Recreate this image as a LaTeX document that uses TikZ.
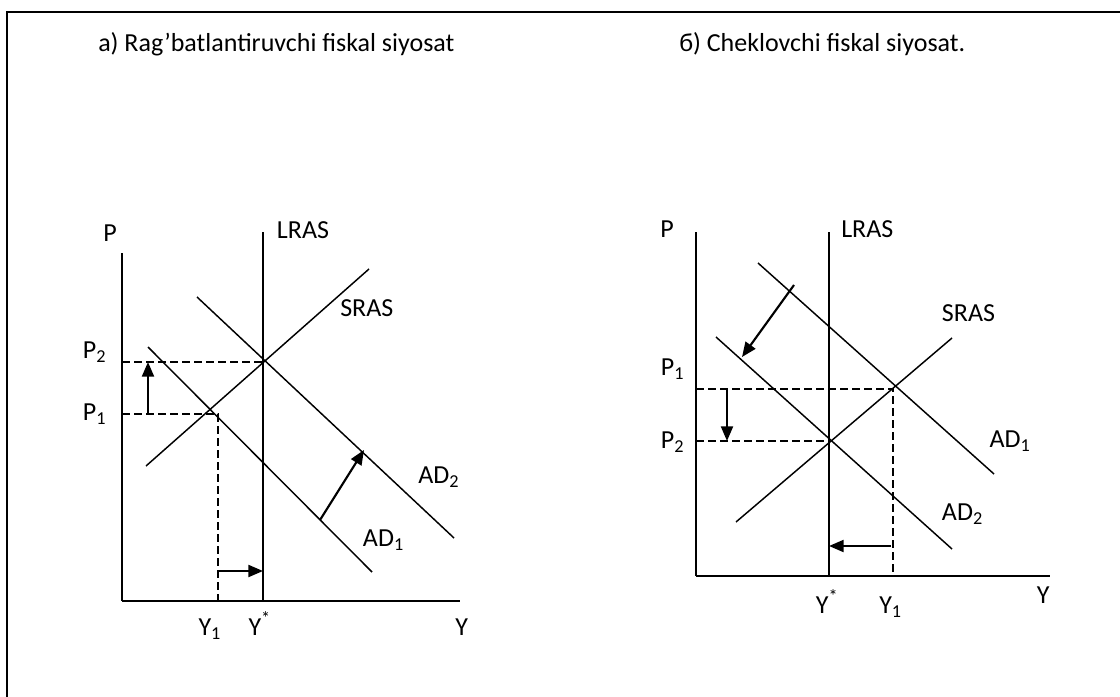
\documentclass[tikz,border=0pt]{standalone}
\usepackage{fontspec}
\setmainfont{Carlito}
\usetikzlibrary{arrows.meta}

\begin{document}
\begin{tikzpicture}[x=0.75pt,y=-0.75pt,
  ax/.style={line width=1.5pt},
  cv/.style={line width=1.1pt},
  gd/.style={line width=1.1pt,dash pattern=on 6pt off 3pt},
  mv/.style={line width=1.6pt,-{Triangle[length=11pt,width=9pt]}},
  lb/.style={font=\fontsize{19.5}{23}\selectfont,inner sep=0pt,anchor=base west}]
  \useasboundingbox (0,0) rectangle (1120,696);
  \draw[line width=1.6pt] (7,720) -- (7,12) -- (1140,12);
  \node[lb](ta)at(98,51.7){a) Rag’batlantiruvchi fiskal siyosat};
  \node[lb](tb)at(679,51.7){б) Cheklovchi fiskal siyosat.};
  % a) left panel
  \coordinate(aO)at(122,601);\coordinate(aPt)at(122,253);\coordinate(aYe)at(460,601);
  \coordinate(aL0)at(263,601);\coordinate(aL1)at(263,232);
  \coordinate(aS0)at(146,466);\coordinate(aS1)at(369,269);
  \coordinate(aA0)at(148,347);\coordinate(aA1)at(372,572);
  \coordinate(aB0)at(197,297);\coordinate(aB1)at(454,538);
  \coordinate(aE1)at(218,414);\coordinate(aE2)at(263,362);
  \draw[ax](aPt)--(aO);\draw[ax](aO)--(aYe);\draw[cv](aL0)--(aL1);
  \draw[cv](aS0)--(aS1);\draw[cv](aA0)--(aA1);\draw[cv](aB0)--(aB1);
  \draw[gd](aO|-aE2)--(aE2);\draw[gd](aO|-aE1)--(aE1)--(aE1|-aO);
  \coordinate(aU0)at(148,414);\coordinate(aU1)at(148,362);
  \coordinate(aR0)at(218,571);\coordinate(aR1)at(263,571);
  \coordinate(aD0)at(320,520);\coordinate(aD1)at(364,450);
  \draw[mv](aU0)--(aU1);\draw[mv](aR0)--(aR1);\draw[mv](aD0)--(aD1);
  \node[lb](aP)at(103,241.7){P};\node[lb](aLR)at(276.7,238.3){LRAS};
  \node[lb](aSR)at(340,316){SRAS};
  \node[lb](aP2)at(82.7,358){P\textsubscript{2}};\node[lb](aP1)at(82.7,420){P\textsubscript{1}};
  \node[lb](aAD2)at(418,483.3){AD\textsubscript{2}};\node[lb](aAD1)at(362.7,546.7){AD\textsubscript{1}};
  \node[lb](aY1)at(198.3,635){Y\textsubscript{1}};\node[lb](aYs)at(248.3,635){Y\textsuperscript{*}};
  \node[lb](aY)at(455,635){Y};
  % b) right panel
  \coordinate(bO)at(696,576);\coordinate(bPt)at(696,232);\coordinate(bYe)at(1050,576);
  \coordinate(bL0)at(829,576);\coordinate(bL1)at(829,232);
  \coordinate(bA0)at(758,263);\coordinate(bA1)at(994,474);
  \coordinate(bB0)at(716,337);\coordinate(bB1)at(952,549);
  \coordinate(bS0)at(736,522);\coordinate(bS1)at(952,338);
  \coordinate(bE1)at(893,389);\coordinate(bE2)at(829,441);
  \draw[ax](bPt)--(bO);\draw[ax](bO)--(bYe);\draw[cv](bL0)--(bL1);
  \draw[cv](bS0)--(bS1);\draw[cv](bA0)--(bA1);\draw[cv](bB0)--(bB1);
  \draw[gd](bO|-bE1)--(bE1)--(bE1|-bO);\draw[gd](bO|-bE2)--(bE2);
  \coordinate(bU0)at(727,389);\coordinate(bU1)at(727,441);
  \coordinate(bR0)at(891,546);\coordinate(bR1)at(829,546);
  \coordinate(bD0)at(794,285);\coordinate(bD1)at(742,357);
  \draw[mv](bU0)--(bU1);\draw[mv](bR0)--(bR1);\draw[mv](bD0)--(bD1);
  \node[lb](bP)at(660,237.3){P};\node[lb](bLR)at(841,237.3){LRAS};
  \node[lb](bSR)at(941.7,321.7){SRAS};
  \node[lb](bP1)at(660.7,375.7){P\textsubscript{1}};\node[lb](bP2)at(660.7,448.3){P\textsubscript{2}};
  \node[lb](bAD1)at(989.3,447.3){AD\textsubscript{1}};\node[lb](bAD2)at(941.7,520.7){AD\textsubscript{2}};
  \node[lb](bYs)at(815.7,613){Y\textsuperscript{*}};\node[lb](bY1)at(879,613){Y\textsubscript{1}};
  \node[lb](bY)at(1036.7,603.3){Y};
\end{tikzpicture}
\end{document}
